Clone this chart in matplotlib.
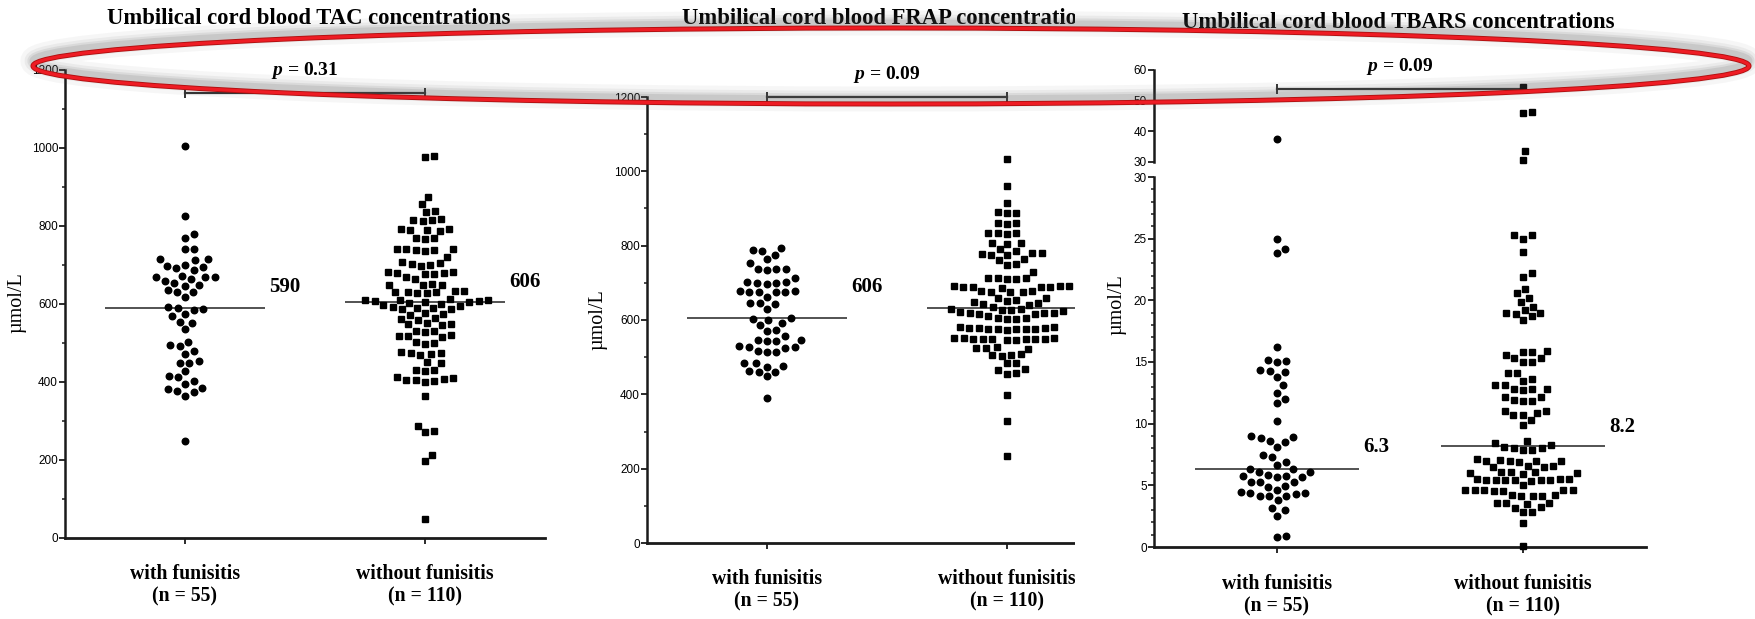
import matplotlib
matplotlib.use("Agg")
import matplotlib.pyplot as plt
import matplotlib.transforms as mtransforms
from matplotlib.patches import Ellipse
from matplotlib.ticker import MultipleLocator
import numpy as np

plt.rcParams["font.family"] = ["Liberation Sans", "DejaVu Sans"]
plt.rcParams["mathtext.fontset"] = "custom"
plt.rcParams["mathtext.it"] = "Liberation Serif:italic:bold"
plt.rcParams["mathtext.rm"] = "Liberation Serif:bold"

W, H = 1756, 619
SERIF = ["Liberation Serif", "DejaVu Serif"]

# ---- data ----
groups = ["with funisitis\n(n = 55)", "without funisitis\n(n = 110)"]
titles = ["Umbilical cord blood TAC concentrations",
          "Umbilical cord blood FRAP concentrations",
          "Umbilical cord blood TBARS concentrations"]
p_values = ["0.31", "0.09", "0.09"]

tac_with = [1005, 825, 780, 770, 740, 740, 715, 712, 715, 695, 697, 692, 700, 688,
            670, 668, 672, 665, 660, 668, 655, 650, 645, 630, 632, 635, 618,
            590, 588, 585, 592, 575, 570, 555, 552, 535, 502, 492, 495, 480, 472,
            448, 455, 450, 428, 412, 415, 402, 395, 382, 385, 375, 378, 365, 248]
tac_without = [980, 978, 874, 857, 838, 835, 818, 815, 812, 816, 792, 790, 788, 790,
               793, 770, 768, 766, 740, 738, 736, 738, 740, 742, 720, 708, 705, 702,
               700, 698, 682, 680, 678, 676, 680, 682, 668, 665, 650, 648, 652, 650,
               632, 630, 634, 628, 631, 633, 629, 612, 610, 608, 609, 611, 607,
               605, 604, 603, 600, 598, 596, 592, 590, 588, 590, 587, 575, 573, 576,
               562, 560, 565, 548, 550, 546, 552, 530, 528, 532, 518, 515, 520, 517,
               500, 502, 498, 475, 473, 476, 470, 474, 452, 448, 432, 430, 428, 412,
               408, 405, 410, 402, 400, 406, 365, 287, 275, 272, 213, 198, 49]
tac_medians = [590, 606]

frap_with = [795, 787, 785, 775, 763, 753, 738, 736, 737, 735, 712, 702, 700, 698,
             700, 701, 678, 676, 675, 677, 674, 676, 663, 645, 647, 644, 629,
             606, 604, 600, 593, 587, 573, 570, 557, 545, 543, 544, 546, 528, 526,
             527, 529, 515, 514, 516, 485, 483, 476, 474, 461, 460, 462, 448, 390]
frap_without = [1032, 961, 916, 889, 887, 891, 860, 862, 858, 835, 833, 831, 834, 808,
                806, 805, 790, 786, 780, 778, 776, 779, 775, 765, 762, 750, 747, 730,
                714, 712, 710, 713, 711, 692, 690, 689, 691, 688, 690, 687, 692, 676,
                678, 675, 674, 677, 660, 658, 655, 652, 648, 645, 642, 640, 636,
                630, 628, 629, 626, 624, 622, 620, 618, 619, 617, 615, 612, 606, 604,
                605, 603, 580, 578, 577, 579, 576, 575, 580, 578, 574, 577, 577, 550,
                548, 551, 549, 547, 552, 550, 546, 548, 551, 549, 526, 524, 527, 523,
                508, 505, 507, 504, 485, 483, 468, 465, 458, 455, 398, 329, 235]
frap_medians = [606, 632]

tbars_with = [37.5, 25.0, 24.2, 23.8, 16.2, 15.1, 15.0, 15.2, 14.3, 14.2, 14.35, 13.8,
              13.1, 12.5, 12.0, 11.65, 10.25, 9.0, 8.9, 8.85, 8.6, 8.55, 8.1, 7.45,
              7.3, 6.9, 6.65, 6.3, 6.3, 6.1, 6.1, 5.75, 5.7, 5.75, 5.8, 5.7, 5.3, 5.3,
              5.25, 4.95, 4.9, 4.6, 4.5, 4.35, 4.3, 4.35, 4.15, 4.1, 4.15, 3.8, 3.0,
              3.2, 2.55, 0.85, 0.9]
tbars_without = [54.5, 46.2, 46.0, 33.5, 30.5, 25.3, 25.3, 25.0, 23.9, 22.2, 21.9, 20.9,
                 20.6, 20.2, 19.9, 19.5, 19.2, 19.0, 19.0, 18.9, 18.7, 18.4, 15.9, 15.85,
                 15.8, 15.6, 15.3, 15.3, 15.0, 15.0, 14.1, 14.1, 13.6, 13.5, 13.1, 13.1,
                 12.8, 12.8, 12.7, 12.8, 12.2, 12.2, 11.9, 11.8, 11.8, 11.0, 11.0, 10.9,
                 10.7, 10.7, 10.3, 9.9, 8.6, 8.4, 8.3,
                 8.1, 8.0, 8.0, 7.9, 7.9, 7.1, 7.0, 7.0, 6.95, 7.05, 7.0, 6.9, 6.6, 6.5,
                 6.45, 6.55, 6.1, 6.0, 6.05, 5.95, 6.0, 6.1, 5.5, 5.45, 5.4, 5.45, 5.4,
                 5.5, 5.35, 5.45, 5.4, 5.5, 5.0, 4.65, 4.6, 4.55, 4.6, 4.65, 4.6, 4.55,
                 4.2, 4.1, 4.15, 4.1, 4.2, 3.6, 3.55, 3.5, 3.6, 3.25, 3.2, 2.85, 2.8,
                 1.95, 0.05]
tbars_medians = [6.3, 8.2]

fig = plt.figure(figsize=(W / 100, H / 100), dpi=100)
fig.patch.set_facecolor("white")
pix = mtransforms.Affine2D().scale(1 / W, -1 / H).translate(0, 1) + fig.transFigure


def rect(l, t, r, b):
    return [l / W, 1 - b / H, (r - l) / W, (b - t) / H]


def swarm(ax, x0, vals, d=9.5):
    """Beeswarm x positions, computed in screen pixels."""
    vals = np.asarray(vals, dtype=float)
    ypx = ax.transData.transform(np.column_stack([np.full(len(vals), x0), vals]))[:, 1]
    xu = ax.transData.transform((1, 0))[0] - ax.transData.transform((0, 0))[0]
    offs = np.zeros(len(vals))
    placed = []
    for i in np.argsort(ypx):
        y = ypx[i]
        near = [(px, py) for px, py in placed if abs(py - y) < d]
        cands = [0.0]
        for px, py in near:
            dx = np.sqrt(d * d - (py - y) ** 2)
            cands += [px + dx, px - dx]
        cands.sort(key=abs)
        for c in cands:
            if all((c - px) ** 2 + (y - py) ** 2 >= d * d - 1e-6 for px, py in near):
                offs[i] = c
                break
        placed.append((offs[i], y))
    return x0 + offs / xu


def dots(ax, x0, vals, marker):
    ms = 4.7 if marker == "o" else 4.4
    ax.plot(swarm(ax, x0, vals), vals, ls="none", marker=marker, ms=ms,
            color="black", mec="black", clip_on=False, zorder=3)


def style(ax, ylim, major, minor=None, bottom=True):
    ax.set_xlim(0.5, 2.5)
    ax.set_ylim(*ylim)
    ax.patch.set_alpha(0)
    for s in ["top", "right"]:
        ax.spines[s].set_visible(False)
    ax.spines["left"].set_linewidth(1.8)
    ax.spines["left"].set_color("#1a1a1a")
    ax.yaxis.set_major_locator(MultipleLocator(major))
    if minor:
        ax.yaxis.set_minor_locator(MultipleLocator(minor))
    ax.tick_params(axis="y", which="major", length=4, width=1.3, pad=1,
                   labelsize=8.5, color="#1a1a1a")
    ax.tick_params(axis="y", which="minor", length=2.5, width=1.1, color="#1a1a1a")
    if bottom:
        ax.spines["bottom"].set_linewidth(2.0)
        ax.spines["bottom"].set_color("#1a1a1a")
        ax.set_xticks([1, 2])
        ax.set_xticklabels(["", ""])
        ax.tick_params(axis="x", length=4, width=1.3, color="#1a1a1a")
    else:
        ax.spines["bottom"].set_visible(False)
        ax.set_xticks([])


def medians(ax, meds, dys, digits, shown=(True, True)):
    for i, (m, dy, s) in enumerate(zip(meds, dys, shown)):
        ax.hlines(m, i + 1 - 0.333, i + 1 + 0.333, color="#444444", lw=1.3, zorder=2,
                  clip_on=False)
        if s:
            ax.annotate(f"{m:.{digits}f}", xy=(i + 1 + 0.333, m), xytext=(3, dy * 0.72),
                        textcoords="offset points", ha="left", va="center",
                        fontfamily=SERIF, fontweight="bold", fontsize=15,
                        annotation_clip=False)


def bracket(ax, y, p):
    ax.plot([1, 2], [y, y], color="#333333", lw=1.6, marker="|", ms=7, mew=1.4,
            clip_on=False, zorder=2)
    ax.annotate(f"$p$ = {p}", xy=(1.5, y), xytext=(0, 16), textcoords="offset points",
                ha="center", va="center", fontfamily=SERIF, fontweight="bold",
                fontsize=14, annotation_clip=False)


def decorate(ax, title, tx, ty, ylab_x, ylab_y, lab_y):
    ax.text(tx, ty, title, transform=pix, ha="left", va="center", fontfamily=SERIF,
            fontweight="bold", fontsize=16.3)
    ax.text(ylab_x, ylab_y, "\u00b5mol/L", transform=pix, rotation=90, ha="center",
            va="center", fontfamily=SERIF, fontsize=14.5)
    bl = mtransforms.blended_transform_factory(ax.transData, pix)
    for i, g in enumerate(groups):
        ax.text(i + 1, lab_y, g, transform=bl, ha="center", va="center",
                fontfamily=SERIF, fontweight="bold", fontsize=14.2, linespacing=1.15)


# ---- panel 1: TAC ----
ax1 = fig.add_axes(rect(65, 70, 545, 538))
style(ax1, (0, 1200), 200, 100)
dots(ax1, 1, tac_with, "o")
dots(ax1, 2, tac_without, "s")
medians(ax1, tac_medians, [21, 20], 0)
bracket(ax1, 1141, p_values[0])
decorate(ax1, titles[0], 107, 18, 17, 303, 585)

# ---- panel 2: FRAP ----
ax2 = fig.add_axes(rect(647, 97, 1127, 543))
style(ax2, (0, 1200), 200, 100)
dots(ax2, 1, frap_with, "o")
dots(ax2, 2, frap_without, "s")
medians(ax2, frap_medians, [31, 25], 0, shown=(True, False))
bracket(ax2, 1200, p_values[1])
decorate(ax2, titles[1], 682, 18, 598, 320, 590)

# panel 3 sits on its own white patch that hides the right edge of panel 2
cover = fig.add_axes(rect(1075, 0, W, H))
cover.set_zorder(1)
cover.set_facecolor("white")
cover.set_xticks([])
cover.set_yticks([])
for s in cover.spines.values():
    s.set_visible(False)

# ---- panel 3: TBARS (broken axis) ----
ax3 = fig.add_axes(rect(1154, 177, 1646, 547))
ax3.set_zorder(2)
style(ax3, (0, 30), 5, 1)
ax3t = fig.add_axes(rect(1154, 70, 1646, 162))
ax3t.set_zorder(2)
style(ax3t, (30, 60), 10, bottom=False)
for x0, vals, mk in [(1, tbars_with, "o"), (2, tbars_without, "s")]:
    low = [v for v in vals if v <= 30]
    high = [v for v in vals if v > 30]
    dots(ax3, x0, low, mk)
    dots(ax3t, x0, high, mk)
medians(ax3, tbars_medians, [22, 19], 1)
bracket(ax3t, 53.8, p_values[2])
decorate(ax3, titles[2], 1182, 23, 1117, 305, 595)

# ---- red ellipse highlight with a soft grey shadow ----
ov = fig.add_axes([0, 0, 1, 1])
ov.set_zorder(5)
ov.set_xlim(0, W)
ov.set_ylim(H, 0)
ov.axis("off")
cx, cy, ew, eh = 891, 66, 1716, 76
for lw, a in [(18, 0.05), (12, 0.07), (8, 0.1), (5, 0.13)]:
    ov.add_patch(Ellipse((cx, cy - 5), ew, eh, fill=False, ec="#555555", lw=lw, alpha=a))
ov.add_patch(Ellipse((cx, cy), ew, eh, fill=False, ec="#b01010", lw=3.6))
ov.add_patch(Ellipse((cx, cy), ew, eh, fill=False, ec="#ee1c24", lw=2.3))

fig.savefig("out.png", dpi=100, facecolor="white")
